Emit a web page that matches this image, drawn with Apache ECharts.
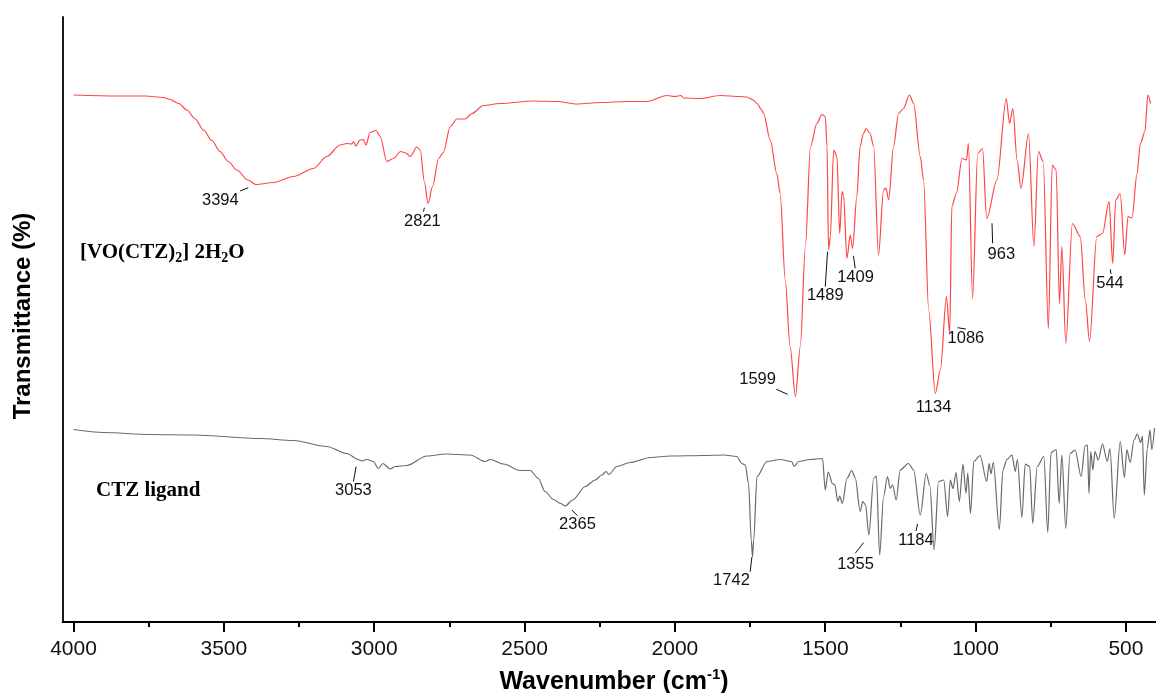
<!DOCTYPE html>
<html>
<head>
<meta charset="utf-8">
<script src="https://cdn.jsdelivr.net/npm/echarts@6/dist/echarts.min.js"></script>
<style>
  html, body { margin: 0; padding: 0; background: #fff; }
  #chart { width: 1156px; height: 693px; }
</style>
</head>
<body>
<div id="chart"></div>
<script>
// FT-IR spectra: wavenumber (cm-1) and offset transmittance (arbitrary units)
const complexWavenumber = [4000,3850,3760,3701,3679,3650,3623,3595,3568,3540,3513,3485,3457,3420,3394,3335,3269,3202,3158,3113,3091,3075,3069,3061,3047,3036,3027,3014,2994,2980,2958,2936,2912,2895,2880,2858,2847,2833,2821,2806,2786,2770,2747,2725,2698,2675,2637,2581,2470,2393,2326,2248,2160,2093,2027,2000,1980,1971,1916,1849,1783,1761,1739,1727,1711,1705,1683,1661,1650,1633,1617,1599,1583,1566,1549,1528,1511,1500,1494,1489,1483,1472,1461,1452,1444,1439,1428,1417,1409,1395,1384,1373,1364,1351,1339,1323,1306,1298,1289,1273,1256,1240,1220,1206,1184,1173,1156,1134,1117,1097,1086,1079,1064,1045,1030,1024,1010,993,977,963,929,898,887,876,862,849,824,806,791,775,758,745,732,721,713,700,678,652,635,621,597,578,556,544,534,519,504,493,480,463,452,437,427,418];
const complexTransmittance = [105.4,105.2,105.2,104.9,104.5,103.7,102.4,100.6,98.4,96.3,94.1,92.1,90.4,88.4,87.5,87.9,89.1,90.7,93.1,95.4,95.7,95.6,96.1,95.2,96.4,96.5,95.4,97.9,98.3,97.1,92.1,92.7,94.1,93.8,93.1,95.0,94.4,88.0,83.7,87.1,92.7,93.9,99.1,100.6,100.6,101.7,103.3,103.7,104.2,104.1,103.6,103.9,104.1,104.1,105.3,105.1,105.3,104.8,104.7,105.3,105.1,105.0,104.4,103.7,102.4,101.7,96.4,89.7,85.7,68.4,55.1,45.1,55.1,75.1,95.1,99.7,101.5,101.1,95.1,74.4,77.1,94.4,93.1,77.7,86.1,85.4,72.7,77.4,74.7,85.1,95.1,97.7,98.7,97.7,95.1,73.4,86.4,86.8,84.4,95.1,101.7,102.7,105.4,103.7,93.1,88.4,62.4,45.7,50.4,65.1,57.7,83.1,85.7,92.7,92.4,95.7,64.7,93.7,94.7,80.7,88.4,104.7,99.7,102.7,92.4,86.7,97.7,75.1,94.1,92.1,58.7,91.4,90.4,63.7,75.1,55.7,79.7,77.1,64.4,56.1,77.1,77.7,84.1,71.7,84.4,85.7,73.4,81.1,80.8,89.7,95.7,98.1,105.4,103.7];

const ligandWavenumber = [4000,3901,3746,3601,3380,3269,3158,3091,3053,3041,3025,3003,2986,2971,2947,2930,2892,2825,2759,2681,2631,2614,2570,2515,2481,2454,2432,2404,2380,2365,2340,2298,2265,2243,2229,2220,2193,2149,2082,2016,1905,1838,1794,1777,1766,1755,1746,1742,1738,1727,1694,1650,1612,1603,1589,1550,1509,1500,1490,1476,1468,1458,1452,1443,1428,1412,1400,1384,1375,1366,1355,1339,1330,1319,1306,1293,1284,1276,1264,1251,1223,1206,1184,1164,1152,1138,1123,1106,1093,1084,1075,1065,1054,1042,1032,1026,1017,1006,985,963,955,949,941,921,909,896,879,868,861,846,835,820,810,795,773,760,749,732,722,713,700,686,669,649,636,628,623,617,610,603,592,578,562,553,539,519,505,497,486,473,462,451,445,439,429,420,414,405];
const ligandTransmittance = [38.5,37.9,37.5,37.4,36.7,36.3,35.1,33.7,32.5,32.2,32.5,32.1,30.7,31.7,30.6,31.1,31.3,33.2,33.6,33.4,32.1,32.5,31.6,30.3,30.3,28.7,26.1,24.5,23.7,23.2,24.4,27.1,28.4,29.4,30.1,29.5,31.1,31.9,32.9,33.2,33.3,33.4,33.1,31.7,31.4,27.7,16.4,13.0,16.4,29.1,32.1,32.5,32.1,31.1,32.1,32.5,32.7,26.4,30.0,27.7,27.4,24.1,25.2,23.7,28.7,30.3,28.8,22.1,24.1,23.4,17.4,28.7,29.2,13.4,25.1,29.1,26.7,27.4,24.4,30.4,31.7,30.4,21.4,29.7,27.2,14.4,28.1,28.4,21.1,28.4,26.7,29.9,24.1,31.6,25.7,29.8,21.7,32.1,33.3,28.1,31.7,29.6,31.9,18.5,30.4,32.5,33.4,30.1,32.5,20.9,31.6,31.1,19.7,31.1,33.1,17.9,33.9,34.5,23.7,33.4,18.7,33.7,34.4,29.1,35.2,35.4,25.7,34.1,30.4,34.1,32.4,35.6,32.1,34.7,20.7,36.1,28.9,34.5,31.9,36.4,37.6,35.9,37.2,25.4,34.7,38.4,34.5,38.8];

// Assigned bands
const complexPeaks = [3394, 2821, 1599, 1489, 1409, 1134, 1086, 963, 544];
const ligandPeaks = [3053, 2365, 1742, 1355, 1184];

// Axis ticks
const majorTicks = [4000, 3500, 3000, 2500, 2000, 1500, 1000, 500];
const minorTicks = [3750, 3250, 2750, 2250, 1750, 1250, 750];

// Placement of band labels relative to the band minimum (pixels):
// [text dx, text dy, leader x1, y1, x2, y2] (leader omitted when null)
const complexLabelPlacement = [
  [-35.4, 15.5, [-15.7, 6.5, -7.4, 3.2]],
  [-5.6, 18.2, [-4.6, 8.2, -3.6, 4.2]],
  [-37.9, -17.2, [-19.2, -7.2, -7.9, -2.2]],
  [-3.3, 45, [-3.3, 36.7, -1, 1.7]],
  [2.9, 28.5, [2.6, 19.8, 0.9, 7.5]],
  [-1.7, 14.2, null],
  [16.2, 5.2, [7.8, -5.8, 16.2, -4.5]],
  [14.6, 35.8, [5.3, 4.8, 5.9, 24.8]],
  [-2.7, 19.8, [-2.4, 5.8, -1.7, 10.5]]
];
const ligandLabelPlacement = [
  [-4.9, 31.2, [-4.9, 22.2, -2.2, 7.2]],
  [12.3, 18.3, [6.7, 4, 12.3, 9.7]],
  [-21, 23.7, [-2.3, 14.7, -0.6, 0]],
  [-13.3, 29, [-13.6, 18.3, -5.3, 7.7]],
  [-4.3, 25.7, [-4.3, 16, -2.7, 9]]
];

const pairs = (xs, ys) => xs.map((x, i) => [x, ys[i]]);
const valueAt = (xs, ys, w) => ys[xs.indexOf(w)];

function bandLabels(peaks, xs, ys, placement) {
  return {
    type: 'custom',
    coordinateSystem: 'cartesian2d',
    clip: false,
    silent: true,
    data: peaks.map(w => [w, valueAt(xs, ys, w)]),
    renderItem: function (params, api) {
      const p = api.coord([api.value(0), api.value(1)]);
      const pl = placement[params.dataIndex];
      const children = [{
        type: 'text',
        x: p[0] + pl[0],
        y: p[1] + pl[1],
        style: {
          text: String(api.value(0)),
          fill: '#111',
          font: '16.5px "Liberation Sans", Arial, sans-serif',
          align: 'center',
          verticalAlign: 'middle'
        }
      }];
      if (pl[2]) {
        const l = pl[2];
        children.push({
          type: 'line',
          shape: { x1: p[0] + l[0], y1: p[1] + l[1], x2: p[0] + l[2], y2: p[1] + l[3] },
          style: { stroke: '#111', lineWidth: 1 }
        });
      }
      return { type: 'group', children: children };
    }
  };
}

const chart = echarts.init(document.getElementById('chart'), null, { renderer: 'canvas' });

const option = {
  animation: false,
  backgroundColor: '#fff',
  grid: { left: 62.7, right: 0, top: 17, bottom: 71, containLabel: false },
  xAxis: [
    {
      type: 'value',
      inverse: true,
      min: 400,
      max: 4036,
      position: 'bottom',
      axisLine: { show: true, lineStyle: { color: '#000', width: 2 } },
      axisTick: { show: true, customValues: majorTicks, length: 10, inside: false, lineStyle: { color: '#000', width: 2 } },
      axisLabel: {
        show: true, customValues: majorTicks, margin: 17,
        formatter: v => String(v),
        color: '#111', fontSize: 21, fontFamily: '"Liberation Sans", Arial, sans-serif'
      },
      splitLine: { show: false }
    },
    {
      type: 'value',
      inverse: true,
      min: 400,
      max: 4036,
      position: 'bottom',
      axisLine: { show: false },
      axisTick: { show: true, customValues: minorTicks, length: 5, lineStyle: { color: '#000', width: 2 } },
      axisLabel: { show: false },
      splitLine: { show: false }
    }
  ],
  yAxis: {
    type: 'value',
    min: 0,
    max: 121,
    axisLine: { show: true, lineStyle: { color: '#000', width: 1.8 } },
    axisTick: { show: false },
    axisLabel: { show: false },
    splitLine: { show: false }
  },
  series: [
    {
      name: '[VO(CTZ)2] 2H2O',
      type: 'line',
      data: pairs(complexWavenumber, complexTransmittance),
      showSymbol: false,
      smooth: 0.3,
      smoothMonotone: 'x',
      lineStyle: { color: '#ff4545', width: 1.2 },
      itemStyle: { color: '#ff4545' }
    },
    {
      name: 'CTZ ligand',
      type: 'line',
      data: pairs(ligandWavenumber, ligandTransmittance),
      showSymbol: false,
      smooth: 0.3,
      smoothMonotone: 'x',
      lineStyle: { color: '#6a6a6a', width: 1.2 },
      itemStyle: { color: '#6a6a6a' }
    },
    bandLabels(complexPeaks, complexWavenumber, complexTransmittance, complexLabelPlacement),
    bandLabels(ligandPeaks, ligandWavenumber, ligandTransmittance, ligandLabelPlacement)
  ],
  graphic: [
    {
      type: 'text',
      x: 23,
      y: 316,
      rotation: Math.PI / 2,
      style: {
        text: 'Transmittance (%)',
        font: 'bold 24px "Liberation Sans", Arial, sans-serif',
        fill: '#000',
        align: 'center',
        verticalAlign: 'middle'
      }
    },
    {
      type: 'text',
      x: 614,
      y: 681,
      style: {
        text: '{t|Wavenumber (cm}{s|-1}{t|)}',
        align: 'center',
        verticalAlign: 'middle',
        rich: {
          t: { font: 'bold 25px "Liberation Sans", Arial, sans-serif', fill: '#000', lineHeight: 28, verticalAlign: 'bottom' },
          s: { font: 'bold 15px "Liberation Sans", Arial, sans-serif', fill: '#000', lineHeight: 28, verticalAlign: 'top' }
        }
      }
    },
    {
      type: 'text',
      x: 80,
      y: 253,
      style: {
        text: '{t|[VO(CTZ)}{s|2}{t|] 2H}{s|2}{t|O}',
        align: 'left',
        verticalAlign: 'middle',
        rich: {
          t: { font: 'bold 21px "Liberation Serif", "Times New Roman", serif', fill: '#000', lineHeight: 24, verticalAlign: 'middle' },
          s: { font: 'bold 14px "Liberation Serif", "Times New Roman", serif', fill: '#000', lineHeight: 24, verticalAlign: 'bottom', padding: [8, 0, 0, 0] }
        }
      }
    },
    {
      type: 'text',
      x: 96,
      y: 491,
      style: {
        text: 'CTZ ligand',
        font: 'bold 21px "Liberation Serif", "Times New Roman", serif',
        fill: '#000',
        align: 'left',
        verticalAlign: 'middle'
      }
    }
  ]
};

chart.setOption(option);
</script>
</body>
</html>
